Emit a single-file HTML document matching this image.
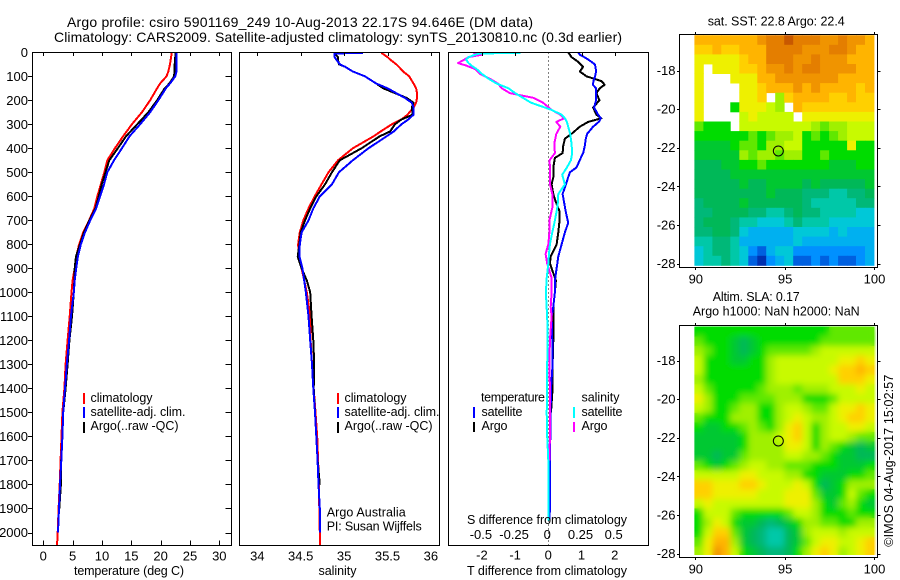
<!DOCTYPE html>
<html>
<head>
<meta charset="utf-8">
<title>Argo profile</title>
<style>
html,body{margin:0;padding:0;background:#fff;}
svg{display:block;}
text{font-family:"Liberation Sans",sans-serif;fill:#000;font-size:12.5px;}
.t14{font-size:14px;}
.tick{font-size:13px;}
.frame{fill:none;stroke:#000;stroke-width:1.4;shape-rendering:crispEdges;}
.line{fill:none;stroke-width:2;shape-rendering:crispEdges;stroke-linejoin:round;}
</style>
</head>
<body>
<svg id="chart" xmlns="http://www.w3.org/2000/svg" width="900" height="580" viewBox="0 0 900 580">
  <defs>
    <filter id="slaBlur" x="-10%" y="-10%" width="120%" height="120%">
      <feGaussianBlur stdDeviation="3.2"/>
    </filter>
    <clipPath id="slaClip">
      <rect x="694.3" y="326" width="182" height="229"/>
    </clipPath>
  </defs>
  <rect x="0" y="0" width="900" height="580" fill="#fff"/>
  <g id="maps"></g>
  <g clip-path="url(#slaClip)">
    <g id="slaCells"></g>
    <use href="#slaCells" filter="url(#slaBlur)"/>
  </g>
  <g id="marks"></g>

  <text class="t14" x="67" y="27" textLength="466" lengthAdjust="spacing">Argo profile: csiro 5901169_249 10-Aug-2013 22.17S 94.646E (DM data)</text>
  <text class="t14" x="54" y="42" textLength="568" lengthAdjust="spacing">Climatology: CARS2009. Satellite-adjusted climatology: synTS_20130810.nc (0.3d earlier)</text>

  <text x="74" y="575" textLength="110" lengthAdjust="spacing">temperature (deg C)</text>
  <text x="318.5" y="575" textLength="38" lengthAdjust="spacing">salinity</text>
  <text x="467" y="575" textLength="160" lengthAdjust="spacing">T difference from climatology</text>
  <text x="467" y="524" textLength="160" lengthAdjust="spacing">S difference from climatology</text>

  <g>
    <rect x="83" y="393" width="2" height="11" fill="#f00"/>
    <rect x="83" y="407" width="2" height="11" fill="#00f"/>
    <rect x="83" y="422" width="2" height="11" fill="#000"/>
    <text x="90.5" y="402" textLength="62" lengthAdjust="spacing">climatology</text>
    <text x="90.5" y="416" textLength="95" lengthAdjust="spacing">satellite-adj. clim.</text>
    <text x="90.5" y="430" textLength="88" lengthAdjust="spacing">Argo(..raw -QC)</text>
  </g>
  <g>
    <rect x="337" y="393" width="2" height="11" fill="#f00"/>
    <rect x="337" y="407" width="2" height="11" fill="#00f"/>
    <rect x="337" y="422" width="2" height="11" fill="#000"/>
    <text x="344.5" y="402" textLength="62" lengthAdjust="spacing">climatology</text>
    <text x="344.5" y="416" textLength="95" lengthAdjust="spacing">satellite-adj. clim.</text>
    <text x="344.5" y="430" textLength="88" lengthAdjust="spacing">Argo(..raw -QC)</text>
  </g>
  <text x="326.7" y="516.7" textLength="79" lengthAdjust="spacing">Argo Australia</text>
  <text x="326.7" y="530.7" textLength="95" lengthAdjust="spacing">PI: Susan Wijffels</text>

  <g>
    <text x="481" y="401.7" textLength="64" lengthAdjust="spacing">temperature</text>
    <rect x="473" y="407" width="2" height="11" fill="#00f"/>
    <text x="481.5" y="416" textLength="41" lengthAdjust="spacing">satellite</text>
    <rect x="473" y="422" width="2" height="10" fill="#000"/>
    <text x="481.5" y="430" textLength="26" lengthAdjust="spacing">Argo</text>
    <text x="581.5" y="401.7" textLength="38" lengthAdjust="spacing">salinity</text>
    <rect x="573" y="407" width="2" height="11" fill="#0ff"/>
    <text x="581.5" y="416" textLength="41" lengthAdjust="spacing">satellite</text>
    <rect x="573" y="422" width="2" height="10" fill="#f0f"/>
    <text x="581.5" y="430" textLength="26" lengthAdjust="spacing">Argo</text>
  </g>

  <text x="707.7" y="25.3" textLength="137" lengthAdjust="spacing">sat. SST: 22.8 Argo: 22.4</text>
  <text x="712.7" y="301" textLength="87" lengthAdjust="spacing">Altim. SLA: 0.17</text>
  <text x="692.7" y="315.7" textLength="167" lengthAdjust="spacing">Argo h1000: NaN h2000: NaN</text>
  <text transform="translate(893,546.7) rotate(-90)" x="0" y="0" textLength="172" lengthAdjust="spacing">©IMOS 04-Aug-2017 15:02:57</text>
</svg>

<script>
var depthTickValues = [0,100,200,300,400,500,600,700,800,900,1000,1100,1200,1300,1400,1500,1600,1700,1800,1900,2000];
var tempTickValues = [0,5,10,15,20,25,30];
var salTickValues = [34,34.5,35,35.5,36];
var tDiffTickValues = [-2,-1,0,1,2];
var sDiffTickValues = [-0.5,-0.25,0,0.25,0.5];
var lonTickValues = [90,95,100];
var latTickValues = [-18,-20,-22,-24,-26,-28];

var tempDepth = [0,50,80,100,130,150,200,250,300,350,400,450,500,550,600,650,700,750,800,850,900,950,1000,1100,1200,1300,1400,1500,1600,1700,1800,1900,2000,2055];
var tempClim = [21.9,21.6,21.3,21.0,19.9,19.4,18.2,16.8,15.1,13.6,12.2,10.9,10.4,9.8,9.2,8.7,7.8,6.8,6.1,5.6,5.35,5.0,4.8,4.5,4.15,3.8,3.6,3.25,3.1,2.95,2.8,2.6,2.45,2.33];
var tempSat = [22.7,22.7,22.7,22.5,21.6,20.9,19.6,18.2,16.5,14.7,13.4,12.05,10.9,10.35,9.66,9.0,8.0,7.1,6.4,5.9,5.6,5.35,5.2,4.7,4.4,4.0,3.7,3.4,3.25,3.07,2.85,2.68,2.5,null];
var tempArgo = [22.55,22.4,22.35,22.3,21.5,20.7,19.4,17.9,16.0,14.1,12.7,11.25,10.6,9.95,9.44,8.9,7.85,6.94,6.25,5.57,5.35,5.3,5.2,4.9,4.45,4.15,3.8,3.4,3.25,3.05,3.0,2.73,null,null];

var salDepth = [2,5,20,30,50,60,80,100,130,150,170,190,210,230,260,280,300,330,350,400,450,500,550,600,650,700,750,800,850,900,950,1000,1100,1200,1300,1400,1500,1600,1700,1800,1900,2000,2055];
var salClim = [35.43,35.44,35.50,35.53,35.60,35.63,35.68,35.75,35.80,35.83,35.84,35.84,35.83,35.80,35.73,35.66,35.55,35.42,35.34,35.1,34.93,34.82,34.74,34.66,34.59,34.53,34.49,34.47,34.48,34.51,34.54,34.57,34.61,34.614,34.63,34.65,34.67,34.69,34.70,34.71,34.714,34.72,34.72];
var salSat = [35.22,34.89,34.89,34.91,34.95,35.01,35.1,35.24,35.37,35.5,35.6,35.7,35.78,35.8,35.8,35.74,35.66,35.57,35.49,35.28,35.1,34.94,34.86,34.72,34.645,34.59,34.51,34.49,34.485,34.52,34.54,34.56,34.59,34.61,34.63,34.645,34.665,34.68,34.695,34.705,34.72,34.725,null];
var salArgo = [34.89,34.89,34.93,34.93,34.94,35.01,35.1,35.24,35.37,35.45,35.585,35.72,35.8,35.78,35.79,35.66,35.585,35.53,35.41,35.2,34.95,34.86,34.78,34.68,34.61,34.55,34.5,34.485,34.465,34.51,34.57,34.61,34.625,34.645,34.655,34.65,34.665,34.68,34.695,34.72,null,null,null];

var tDiffDepth = [0,10,20,30,40,50,60,80,100,120,135,150,170,200,230,260,275,290,310,340,360,390,420,440,480,500,520,550,590,620,660,680,710,750,800,850,880,920,950,1000,1060,1100,1200,1300,1400,1500,1600,1700,1800,1900,1950];
var tDiffSat = [0.9,0.95,1.08,1.2,1.3,1.4,1.42,1.44,1.41,1.36,1.34,1.44,1.44,1.44,1.38,1.5,1.58,1.52,1.35,1.17,1.13,1.1,1.05,0.98,0.85,0.65,0.6,0.53,0.43,0.47,0.52,0.55,0.6,0.5,0.4,0.3,0.27,0.23,0.2,0.2,0.15,0.1,0.12,0.13,0.08,0.07,0.06,0.05,0.05,0.05,0.03];
var tDiffArgo = [0.6,0.65,0.7,0.8,0.9,0.97,1.05,0.95,1.15,1.6,1.7,1.55,1.45,1.54,1.35,1.45,1.6,1.2,0.95,0.7,0.5,0.45,0.43,0.2,0.15,0.15,0.15,0.1,0.15,0.22,0.33,0.33,0.33,0.3,0.25,0.07,0.05,0.15,0.23,0.2,0.15,0.15,0.15,0.13,0.13,0.08,null,null,null,null,null];

var sDiffDepth = [2,5,10,20,30,45,55,70,90,110,130,150,170,190,210,240,260,275,290,310,340,380,420,450,480,510,550,590,640,700,750,800,840,880,940,1000,1060,1100,1200,1300,1400,1500,1600,1700,1800,1900,1950];
var sDiffSat = [-0.21,-0.515,-0.55,-0.6,-0.62,-0.6,-0.58,-0.54,-0.5,-0.45,-0.39,-0.3,-0.25,-0.19,-0.13,0.025,0.1,0.125,0.14,0.15,0.165,0.175,0.18,0.17,0.14,0.105,0.125,0.075,0.07,0.05,0.03,0.012,0.005,0,-0.012,-0.018,-0.013,-0.008,-0.005,-0.008,-0.008,-0.012,-0.008,0,0,0,0];
var sDiffArgo = [-0.565,-0.5,-0.5,-0.6,-0.63,-0.68,-0.62,-0.55,-0.515,-0.44,-0.38,-0.35,-0.29,-0.11,-0.04,0.025,0.09,0.12,0.06,0.09,0.06,0.045,0.05,0.01,0.012,0.013,0.013,0.03,0.033,0.008,0.008,0,-0.02,-0.008,0.025,0.025,0.018,0.025,0.012,0.008,0.012,0.012,0.012,0.008,null,null,null];

var floatLon = 94.646;
var floatLat = -22.17;

var sstLevels = [
[15,15,15,15,15,15,15,16,17,17,18,17,17,17,16,16,17,16,16,15],
[14,14,15,14,14,15,15,15,17,17,17,17,16,16,16,17,17,16,15,15],
[13,13,13,13,13,14,15,15,17,17,17,16,16,17,16,16,16,15,15,15],
[13,-1,13,13,13,14,14,15,16,16,17,16,17,17,16,16,16,16,15,15],
[13,-1,-1,-1,13,13,13,15,15,16,16,16,16,16,16,16,15,15,15,15],
[13,-1,-1,-1,-1,13,13,14,15,15,15,16,15,16,15,15,15,15,14,15],
[13,-1,-1,-1,-1,13,13,14,-1,11,14,15,15,15,15,14,14,15,14,14],
[13,-1,-1,-1,9,13,13,13,12,11,-1,15,14,14,14,14,14,14,14,14],
[13,-1,-1,-1,-1,12,13,12,12,12,12,-1,13,13,13,13,13,13,13,13],
[10,9,9,9,-1,12,12,12,12,12,12,12,12,11,10,11,11,12,12,12],
[9,9,9,9,9,9,10,9,10,11,11,12,9,10,9,10,11,12,12,12],
[8,8,8,8,9,10,10,9,11,11,12,12,9,9,9,9,9,13,9,9],
[8,8,8,8,8,11,10,11,11,10,11,11,9,9,10,9,9,9,9,9],
[7,7,7,8,8,9,9,10,9,9,9,9,9,9,9,8,8,8,9,9],
[7,7,7,7,8,8,8,8,8,8,8,8,8,8,8,8,8,8,8,8],
[7,7,7,7,7,8,7,7,8,8,8,8,7,8,7,7,7,7,7,8],
[7,7,7,7,7,7,7,7,8,7,7,7,6,6,6,5,5,6,6,7],
[6,7,7,7,7,8,7,7,7,7,7,7,6,5,5,5,5,5,6,6],
[6,6,7,7,7,7,6,6,5,5,6,7,6,6,5,5,5,5,4,4],
[6,7,7,7,6,5,5,4,4,4,5,6,5,5,5,4,4,4,4,4],
[6,6,7,7,6,4,3,3,3,3,3,4,4,4,4,3,4,3,3,3],
[5,5,6,6,5,3,3,3,3,3,3,4,3,3,3,3,3,3,3,3],
[4,5,6,6,5,4,2,1,3,4,4,2,2,2,2,2,2,2,2,3],
[4,5,5,6,5,4,1,0,2,3,4,1,1,2,1,2,1,1,2,3]
];

var slaLevels = [
[9,9,9,9,9,9,9,9,9,9,9,9,9,9,9,10,10,10,10,10],
[10,9,9,9,8,7,8,9,9,9,9,9,9,9,10,10,10,10,10,10],
[11,10,9,9,8,7,8,9,10,10,10,10,10,11,12,12,12,12,12,12],
[12,9,9,9,8,8,9,9,11,12,12,12,12,12,12,12,13,13,14,13],
[12,9,9,9,9,9,9,9,11,12,12,12,12,12,12,13,14,14,15,14],
[11,9,9,9,9,9,9,9,11,12,12,12,12,12,12,12,14,14,14,13],
[12,10,9,9,9,9,9,10,11,11,11,10,11,11,11,12,12,12,13,12],
[13,11,9,9,9,10,10,10,10,11,11,11,9,9,9,10,12,12,12,12],
[12,11,9,9,10,11,11,9,9,11,12,12,11,10,10,12,13,13,14,13],
[10,9,9,9,11,11,11,9,9,11,12,13,12,11,11,12,13,14,14,13],
[9,8,8,9,9,10,11,10,9,11,13,14,12,9,11,12,12,13,13,12],
[8,8,8,8,8,9,11,11,11,12,13,14,12,9,11,12,12,11,10,10],
[8,8,8,8,8,9,11,11,11,11,13,13,12,9,11,10,9,8,7,8],
[8,8,7,8,8,10,11,11,11,11,12,12,11,11,10,9,8,8,7,7],
[10,9,8,9,10,11,12,12,11,11,10,10,10,9,9,9,8,8,8,9],
[12,12,12,12,12,13,13,12,12,12,11,11,9,9,8,8,8,9,9,10],
[14,14,13,13,13,14,14,13,12,12,12,13,12,9,7,8,9,11,11,11],
[14,14,13,13,13,13,13,12,12,12,13,13,13,10,8,8,9,12,10,9],
[12,13,12,12,12,12,12,12,12,12,13,13,13,11,9,8,10,11,9,8],
[9,12,12,12,10,9,9,9,9,9,10,12,12,11,9,9,9,10,9,9],
[9,11,13,12,9,8,8,7,6,7,8,9,11,11,10,10,9,9,11,11],
[9,12,14,14,10,8,7,6,5,5,7,8,11,12,12,12,11,12,12,12],
[10,13,15,15,11,8,7,6,5,5,7,8,10,12,13,13,12,12,13,14],
[11,13,16,15,12,9,8,7,6,6,7,9,11,13,14,13,11,12,13,14]
];

var palette = ['#0030b0','#0060e0','#0090ff','#00b0f0','#00c8d8','#00c8a8','#00b878','#00b858','#00c830','#00dc00','#60e800','#a0f000','#c8fa00','#eef000','#ffd000','#ffb400','#f09400','#e47e00','#c85800'];

var NS = 'http://www.w3.org/2000/svg';
var marksLayer = document.getElementById('marks');
var mapsLayer = document.getElementById('maps');
var slaLayer = document.getElementById('slaCells');

function depthY(d) { return 52.3 + d * 0.2401; }
function tempX(v) { return 43.3 + v * 5.867; }
function salX(v) { return 257.3 + (v - 34) * 86.8; }
function tDiffX(v) { return 548.3 + v * 33.2; }
function sDiffX(v) { return 548.3 + v * 132.8; }
function lonX(v) { return 695.3 + (v - 90) * 17.87; }
function sstLatY(v) { return 70.5 + (-18 - v) * 19.3; }
function slaLatY(v) { return 360.5 + (-18 - v) * 19.3; }

function drawLine(name, depths, values, xFn, color) {
  var pts = [];
  for (var i = 0; i < depths.length; i++) {
    if (values[i] === null) continue;
    pts.push(xFn(values[i]).toFixed(1) + ',' + depthY(depths[i]).toFixed(1));
  }
  var el = document.createElementNS(NS, 'polyline');
  
  
  el.setAttribute('class', 'line');
  el.setAttribute('stroke', color);
  el.setAttribute('points', pts.join(' '));
  marksLayer.appendChild(el);
}

function drawTick(name, x1, y1, x2, y2) {
  var el = document.createElementNS(NS, 'line');
  
  
  el.setAttribute('x1', x1);
  el.setAttribute('y1', y1);
  el.setAttribute('x2', x2);
  el.setAttribute('y2', y2);
  el.setAttribute('stroke', '#000');
  el.setAttribute('stroke-width', '1');
  el.setAttribute('shape-rendering', 'crispEdges');
  marksLayer.appendChild(el);
}

function drawLabel(name, x, y, value, anchor) {
  var el = document.createElementNS(NS, 'text');
  
  
  el.setAttribute('class', 'tick');
  el.setAttribute('x', x);
  el.setAttribute('y', y);
  el.setAttribute('text-anchor', anchor);
  el.textContent = String(value);
  marksLayer.appendChild(el);
}

function drawFrame(name, x, y, w, h) {
  var el = document.createElementNS(NS, 'rect');
  
  
  el.setAttribute('class', 'frame');
  el.setAttribute('x', x);
  el.setAttribute('y', y);
  el.setAttribute('width', w);
  el.setAttribute('height', h);
  marksLayer.appendChild(el);
}

function drawCells(layer, name, levels, yFn, latTop, latStep) {
  for (var r = 0; r < levels.length; r++) {
    for (var c = 0; c < levels[r].length; c++) {
      var lv = levels[r][c];
      if (lv < 0) continue;
      var x0 = lonX(89.95 + c * 0.5025);
      var x1 = lonX(89.95 + (c + 1) * 0.5025);
      var y0 = yFn(latTop - r * latStep);
      var y1 = yFn(latTop - (r + 1) * latStep);
      var el = document.createElementNS(NS, 'rect');
      
      
      el.setAttribute('x', x0.toFixed(1));
      el.setAttribute('y', y0.toFixed(1));
      el.setAttribute('width', (x1 - x0 + 0.4).toFixed(1));
      el.setAttribute('height', (y1 - y0 + 0.4).toFixed(1));
      el.setAttribute('fill', palette[lv]);
      layer.appendChild(el);
    }
  }
}

function drawFloat(name, cx, cy) {
  var el = document.createElementNS(NS, 'circle');
  
  
  el.setAttribute('cx', cx);
  el.setAttribute('cy', cy);
  el.setAttribute('r', '5');
  el.setAttribute('fill', 'none');
  el.setAttribute('stroke', '#000');
  el.setAttribute('stroke-width', '1');
  marksLayer.appendChild(el);
}

/* heatmaps */
drawCells(mapsLayer, 'sst-cell', sstLevels, sstLatY, -16.17, 0.497);
drawCells(slaLayer, 'sla-cell', slaLevels, slaLatY, -16.26, 0.495);

/* dotted zero line */
var zeroLine = document.createElementNS(NS, 'line');


zeroLine.setAttribute('x1', tDiffX(0));
zeroLine.setAttribute('y1', depthY(0));
zeroLine.setAttribute('x2', tDiffX(0));
zeroLine.setAttribute('y2', depthY(2055));
zeroLine.setAttribute('stroke', '#000');
zeroLine.setAttribute('stroke-width', '1');
zeroLine.setAttribute('stroke-dasharray', '1 3');
zeroLine.setAttribute('shape-rendering', 'crispEdges');
marksLayer.appendChild(zeroLine);

/* series */
drawLine('temperature-climatology-line', tempDepth, tempClim, tempX, '#f00');
drawLine('temperature-argo-line', tempDepth, tempArgo, tempX, '#000');
drawLine('temperature-satellite-line', tempDepth, tempSat, tempX, '#00f');
drawLine('salinity-climatology-line', salDepth, salClim, salX, '#f00');
drawLine('salinity-argo-line', salDepth, salArgo, salX, '#000');
drawLine('salinity-satellite-line', salDepth, salSat, salX, '#00f');
drawLine('t-difference-argo-line', tDiffDepth, tDiffArgo, tDiffX, '#000');
drawLine('t-difference-satellite-line', tDiffDepth, tDiffSat, tDiffX, '#00f');
drawLine('s-difference-argo-line', sDiffDepth, sDiffArgo, sDiffX, '#f0f');
drawLine('s-difference-satellite-line', sDiffDepth, sDiffSat, sDiffX, '#0ff');

/* frames */
drawFrame('temperature-plot-frame', 32.5, 52.5, 199, 493);
drawFrame('salinity-plot-frame', 239.5, 52.5, 200, 493);
drawFrame('difference-plot-frame', 448.5, 52.5, 200, 493);
drawFrame('sst-map-frame', 679.5, 34.5, 198, 233);
drawFrame('sla-map-frame', 679.5, 325.5, 198, 232);

/* depth axis */
depthTickValues.forEach(function (d) {
  var y = Math.round(depthY(d)) + 0.5;
  if (d > 0) {
    drawTick('depth-tick-left', 28, y, 32.5, y);
    drawTick('depth-tick-right', 225.5, y, 231.5, y);
  }
  drawLabel('depth-tick-label', 28, depthY(d) + 4.5, d, 'end');
});

/* bottom / top axes */
tempTickValues.forEach(function (v) {
  var x = Math.round(tempX(v)) + 0.5;
  drawTick('temperature-tick-top', x, 52.5, x, 56);
  drawTick('temperature-tick-bottom', x, 540.5, x, 545.5);
  drawLabel('temperature-tick-label', tempX(v), 560.7, v, 'middle');
});
salTickValues.forEach(function (v) {
  var x = Math.round(salX(v)) + 0.5;
  drawTick('salinity-tick-top', x, 52.5, x, 56);
  drawLabel('salinity-tick-label', salX(v), 560.7, v, 'middle');
});
tDiffTickValues.forEach(function (v) {
  var x = Math.round(tDiffX(v)) + 0.5;
  if (v !== 0) {
    drawTick('t-difference-tick-top', x, 52.5, x, 56);
  }
  drawLabel('t-difference-tick-label', tDiffX(v), 559.5, v, 'middle');
});
sDiffTickValues.forEach(function (v) {
  drawLabel('s-difference-tick-label', sDiffX(v) - 1, 539, v, 'middle');
});

/* map axes */
lonTickValues.forEach(function (v) {
  var x = Math.round(lonX(v)) + 0.5;
  drawTick('sst-lon-tick-top', x, 32, x, 34.5);
  drawTick('sst-lon-tick-bottom', x, 267.5, x, 270);
  drawTick('sla-lon-tick-top', x, 323, x, 325.5);
  drawTick('sla-lon-tick-bottom', x, 557.5, x, 560);
  drawLabel('sst-lon-tick-label', lonX(v) + 0.5, 283.3, v, 'middle');
  drawLabel('sla-lon-tick-label', lonX(v) + 0.5, 573.3, v, 'middle');
});
latTickValues.forEach(function (v) {
  var y1 = Math.round(sstLatY(v)) + 0.5;
  var y2 = Math.round(slaLatY(v)) + 0.5;
  drawTick('sst-lat-tick-left', 677, y1, 679.5, y1);
  drawTick('sst-lat-tick-right', 877.5, y1, 880.5, y1);
  drawTick('sla-lat-tick-left', 677, y2, 679.5, y2);
  drawTick('sla-lat-tick-right', 877.5, y2, 880.5, y2);
  drawLabel('sst-lat-tick-label', 675.5, sstLatY(v) + 4.5, v, 'end');
  drawLabel('sla-lat-tick-label', 675.5, slaLatY(v) + 4.5, v, 'end');
});

/* float position */
drawFloat('sst-float-position', lonX(floatLon), sstLatY(floatLat));
drawFloat('sla-float-position', lonX(floatLon), slaLatY(floatLat));
</script>
</body>
</html>
